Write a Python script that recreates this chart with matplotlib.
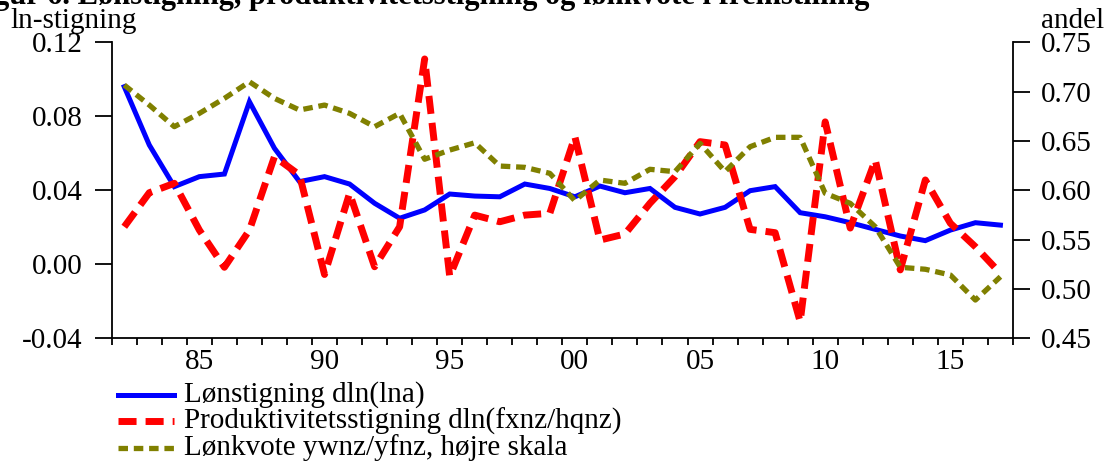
import matplotlib.pyplot as plt
import numpy as np
from matplotlib.lines import Line2D

plt.rcParams['font.family'] = ['Liberation Serif', 'DejaVu Serif']

# Årlige observationer 1982-2017
years = np.arange(1982, 2018)

# Lønstigning dln(lna)
wage_growth = [0.096, 0.0645, 0.042, 0.0474, 0.0488, 0.0879, 0.0627, 0.0447, 0.0474, 0.0434,
               0.033, 0.0249, 0.0294, 0.038, 0.0369, 0.0365, 0.0434, 0.041, 0.0365, 0.0423,
               0.0387, 0.041, 0.0308, 0.0272, 0.0308, 0.0398, 0.042, 0.0279, 0.0257, 0.0225,
               0.0189, 0.0153, 0.0128, 0.0185, 0.0225, 0.0212]

# Produktivitetsstigning dln(fxnz/hqnz)
prod_growth = [0.0203, 0.0387, 0.0438, 0.0185, -0.0016, 0.0185, 0.0582, 0.0483, -0.0055, 0.0384,
               -0.0013, 0.0203, 0.111, -0.0065, 0.0266, 0.023, 0.0266, 0.0276, 0.069, 0.0131,
               0.0164, 0.033, 0.0474, 0.0663, 0.0645, 0.0189, 0.0171, -0.031, 0.077, 0.0196,
               0.0564, -0.003, 0.0456, 0.0222, 0.0095, -0.0049]

# Lønkvote ywnz/yfnz (højre skala)
wage_share = [0.7067, 0.6864, 0.6645, 0.678, 0.6932, 0.71, 0.6932, 0.6814, 0.6864, 0.678,
              0.6645, 0.678, 0.6315, 0.6408, 0.6482, 0.6246, 0.6233, 0.6172, 0.5895, 0.6104,
              0.6071, 0.6213, 0.6189, 0.6476, 0.619, 0.6442, 0.6537, 0.6537, 0.597, 0.5868,
              0.5631, 0.522, 0.52, 0.5142, 0.4888, 0.5124]

left_ticks = [-0.04, 0.00, 0.04, 0.08, 0.12]
right_ticks = [0.45, 0.50, 0.55, 0.60, 0.65, 0.70, 0.75]
year_labels = [1985, 1990, 1995, 2000, 2005, 2010, 2015]

labels = ["Lønstigning dln(lna)",
          "Produktivitetsstigning dln(fxnz/hqnz)",
          "Lønkvote ywnz/yfnz, højre skala"]

blue = "#0000ff"
red = "#ff0000"
olive = "#808000"
fs = 21

fig = plt.figure(figsize=(11.13, 4.61), dpi=100)
ax = fig.add_axes([0.1004, 0.2661, 0.8097, 0.6421])
ax2 = ax.twinx()

ax.plot(years, wage_growth, color=blue, lw=3.6, solid_joinstyle='miter', zorder=2)
ax.plot(years, prod_growth, color=red, lw=5, dashes=(2.6, 1.3), zorder=3)
ax2.plot(years, wage_share, color=olive, lw=3.8, dashes=(1.8, 1.1))

ax.set_xlim(1981.5, 2017.5)
ax.set_ylim(-0.04, 0.12)
ax2.set_ylim(0.45, 0.75)

# årsgrænser som streger, årstal centreret mellem dem
ax.set_xticks(np.arange(1981.5, 2018, 1.0))
ax.set_xticklabels([])
ax.set_xticks(year_labels, minor=True)
ax.set_xticklabels([str(y)[2:] for y in year_labels], minor=True)
ax.tick_params(axis='x', which='major', length=5, width=1.3, direction='out')
ax.tick_params(axis='x', which='minor', length=0, pad=8, labelsize=fs)

ax.set_yticks(left_ticks)
ax.set_yticklabels([f"{v:.2f}" for v in left_ticks])
ax.tick_params(axis='y', length=12, width=1.3, pad=9, labelsize=fs)
ax2.set_yticks(right_ticks)
ax2.set_yticklabels([f"{v:.2f}" for v in right_ticks])
ax2.tick_params(axis='y', length=12, width=1.3, pad=8, labelsize=fs)

for a in (ax, ax2):
    a.spines['top'].set_visible(False)
    for s in a.spines.values():
        s.set_linewidth(1.3)
ax.spines['right'].set_visible(False)
ax2.spines['left'].set_visible(False)
ax2.spines['bottom'].set_visible(False)

fig.text(-0.03, 0.992, "Figur 6. Lønstigning, produktivitetsstigning og lønkvote i fremstilling",
         fontsize=fs + 1, fontweight='bold', ha='left', va='baseline')
fig.text(0.009, 0.94, "ln-stigning", fontsize=fs, ha='left', va='baseline')
fig.text(0.992, 0.94, "andel", fontsize=fs, ha='right', va='baseline')

# forklaring under figuren
styles = [dict(color=blue, lw=3.6),
          dict(color=red, lw=5, dashes=(2.6, 1.3)),
          dict(color=olive, lw=3.8, dashes=(1.8, 1.1))]
rows_y = [395, 421, 448]
for lab, st, yp in zip(labels, styles, rows_y):
    yf = 1 - yp / 461
    fig.add_artist(Line2D([118 / 1113, 174 / 1113], [yf, yf], transform=fig.transFigure, **st))
    fig.text(184 / 1113, yf, lab, fontsize=fs, ha='left', va='center')

fig.savefig("out.png", dpi=100)
